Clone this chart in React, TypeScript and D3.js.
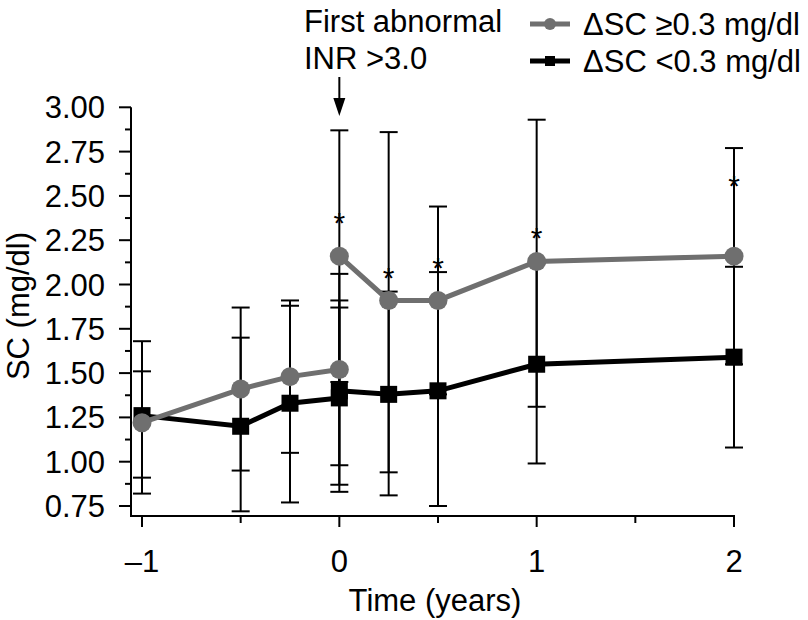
import React from "react";
import * as d3 from "d3";

// ---- Data ----
const timePoints = [-1, -0.5, -0.25, 0, 0, 0.25, 0.5, 1, 2];
// segment id: 0 = before first abnormal INR, 1 = after
const segments = [0, 0, 0, 0, 1, 1, 1, 1, 1];

const grayMean = [1.22, 1.41, 1.48, 1.52, 2.16, 1.91, 1.91, 2.13, 2.16];
const grayUpper = [1.51, 1.87, 1.91, 2.06, 2.87, 2.86, 2.44, 2.93, 2.77];
const grayLower = [0.91, 0.95, 1.05, 0.98, 1.45, 0.94, 1.38, 1.31, 1.55];

const blackMean = [1.26, 1.2, 1.33, 1.36, 1.4, 1.38, 1.4, 1.55, 1.59];
const blackUpper = [1.68, 1.7, 1.88, 1.87, 1.91, 1.96, 2.07, 2.12, 2.1];
const blackLower = [0.82, 0.72, 0.77, 0.87, 0.83, 0.81, 0.75, 0.99, 1.08];

const starTimes = [0, 0.25, 0.5, 1, 2];
const starValues = [2.39, 2.08, 2.14, 2.31, 2.6];

const yTicks = [0.75, 1.0, 1.25, 1.5, 1.75, 2.0, 2.25, 2.5, 2.75, 3.0];
const yMinorTicks = [0.875, 1.125, 1.375, 1.625, 1.875, 2.125, 2.375, 2.625, 2.875];
const xTicks = [-1, 0, 1, 2];
const xTickLabels = ["\u20131", "0", "1", "2"];
const xMinorTicks = [-0.5, 0.5, 1.5];

const legendLabels = ["\u0394SC \u22650.3 mg/dl", "\u0394SC <0.3 mg/dl"];
const annotationLines = ["First abnormal", "INR >3.0"];

const GRAY = "#6f6f6f";
const BLACK = "#000000";
const FONT = "'Liberation Sans', Arial, Helvetica, sans-serif";

export default function App() {
  const x = d3.scaleLinear().domain([-1, 2]).range([142, 734]);
  const y = d3.scaleLinear().domain([0.75, 3]).range([506, 107.3]);
  const axisX = 131;
  const axisY = 516;

  const makePath = (vals: number[], seg: number) => {
    const idx = timePoints.map((_, i) => i).filter((i) => segments[i] === seg);
    return d3
      .line<number>()
      .x((i) => x(timePoints[i]))
      .y((i) => y(vals[i]))(idx) as string;
  };

  const errorBars = (up: number[], lo: number[], key: string) =>
    timePoints.map((t, i) => (
      <g key={key + i} stroke={BLACK} strokeWidth={2}>
        <line x1={x(t)} x2={x(t)} y1={y(up[i])} y2={y(lo[i])} />
        <line x1={x(t) - 9} x2={x(t) + 9} y1={y(up[i])} y2={y(up[i])} />
        <line x1={x(t) - 9} x2={x(t) + 9} y1={y(lo[i])} y2={y(lo[i])} />
      </g>
    ));

  return (
    <svg
      width={808}
      height={620}
      style={{ position: "absolute", left: 0, top: 0, background: "#fff" }}
      fontFamily={FONT}
    >
      <rect width={808} height={620} fill="#fff" />

      {/* Axes */}
      <line x1={axisX} x2={axisX} y1={y(3)} y2={axisY} stroke={BLACK} strokeWidth={2} />
      <line x1={axisX - 1} x2={x(2) + 1} y1={axisY} y2={axisY} stroke={BLACK} strokeWidth={2} />
      {yTicks.map((v) => (
        <g key={"yt" + v}>
          <line x1={axisX - 12} x2={axisX} y1={y(v)} y2={y(v)} stroke={BLACK} strokeWidth={2} />
          <text x={105} y={y(v) + 11} fontSize={31} textAnchor="end" fill={BLACK}>
            {d3.format(".2f")(v)}
          </text>
        </g>
      ))}
      {yMinorTicks.map((v) => (
        <line key={"ym" + v} x1={axisX - 6} x2={axisX} y1={y(v)} y2={y(v)} stroke={BLACK} strokeWidth={2} />
      ))}
      {xTicks.map((t, i) => (
        <g key={"xt" + t}>
          <line x1={x(t)} x2={x(t)} y1={axisY} y2={axisY + 11} stroke={BLACK} strokeWidth={2} />
          <text x={x(t)} y={572} fontSize={31} textAnchor="middle" fill={BLACK}>
            {xTickLabels[i]}
          </text>
        </g>
      ))}
      {xMinorTicks.map((t) => (
        <line key={"xm" + t} x1={x(t)} x2={x(t)} y1={axisY} y2={axisY + 7} stroke={BLACK} strokeWidth={2} />
      ))}

      <text x={435} y={611} fontSize={31} textAnchor="middle" fill={BLACK}>
        Time (years)
      </text>
      <text transform="translate(29,306) rotate(-90)" fontSize={31} textAnchor="middle" fill={BLACK}>
        SC (mg/dl)
      </text>

      {/* Error bars */}
      {errorBars(blackUpper, blackLower, "be")}
      {errorBars(grayUpper, grayLower, "ge")}

      {/* Black series */}
      {[0, 1].map((s) => (
        <path key={"bl" + s} d={makePath(blackMean, s)} fill="none" stroke={BLACK} strokeWidth={5} />
      ))}
      {timePoints.map((t, i) => (
        <rect key={"bs" + i} x={x(t) - 8.5} y={y(blackMean[i]) - 8.5} width={17} height={17} fill={BLACK} />
      ))}

      {/* Gray series */}
      {[0, 1].map((s) => (
        <path key={"gl" + s} d={makePath(grayMean, s)} fill="none" stroke={GRAY} strokeWidth={5} />
      ))}
      {timePoints.map((t, i) => (
        <circle key={"gc" + i} cx={x(t)} cy={y(grayMean[i])} r={9.5} fill={GRAY} />
      ))}

      {/* Significance stars */}
      {starTimes.map((t, i) => (
        <text key={"st" + i} x={x(t)} y={y(starValues[i]) + 18} fontSize={30} textAnchor="middle" fill={BLACK}>
          *
        </text>
      ))}

      {/* Annotation */}
      <text x={304} y={32} fontSize={31} fill={BLACK}>
        {annotationLines[0]}
      </text>
      <text x={304} y={69} fontSize={31} fill={BLACK}>
        {annotationLines[1]}
      </text>
      <line x1={x(0)} x2={x(0)} y1={77} y2={100} stroke={BLACK} strokeWidth={2} />
      <path d={`M${x(0) - 6},${98} L${x(0) + 6},${98} L${x(0)},${116} Z`} fill={BLACK} />

      {/* Legend */}
      <line x1={530} x2={570} y1={24} y2={24} stroke={GRAY} strokeWidth={5} />
      <circle cx={550} cy={24} r={6} fill={GRAY} />
      <text x={583} y={35} fontSize={31} fill={BLACK}>
        {legendLabels[0]}
      </text>
      <line x1={530} x2={570} y1={61} y2={61} stroke={BLACK} strokeWidth={5} />
      <rect x={545} y={56} width={10} height={10} fill={BLACK} />
      <text x={583} y={72} fontSize={31} fill={BLACK}>
        {legendLabels[1]}
      </text>
    </svg>
  );
}
